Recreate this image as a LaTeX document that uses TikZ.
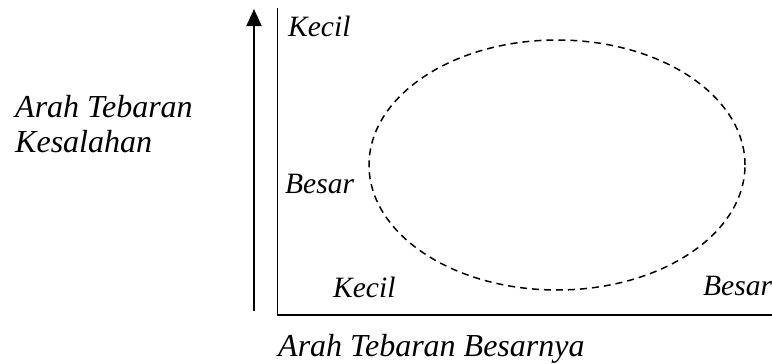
\documentclass[tikz,border=0pt]{standalone}
\usepackage{fontspec}
\setmainfont{Liberation Serif}
\usetikzlibrary{arrows.meta,shapes.geometric}
\begin{document}
\begin{tikzpicture}[x=1pt,y=-1pt,
  lbl/.style={font=\fontsize{29.5}{35}\selectfont\itshape, inner sep=0pt, anchor=base west},
  ttl/.style={font=\fontsize{32}{35}\selectfont\itshape, inner sep=0pt, anchor=base west},
  axisline/.style={line width=1.6pt},
  blob/.style={draw, ellipse, dash pattern=on 7pt off 5pt, line width=1.5pt, minimum width=376pt, minimum height=250pt, inner sep=0pt}]
\useasboundingbox (0,0) rectangle (772,364);
% arrow
\coordinate (ab) at (254,311);
\coordinate (at) at (254,9);
\draw[line width=2pt, -{Triangle[length=17pt,width=15pt]}] (ab) -- (at);
% axes
\coordinate (ytop) at (277.5,8);
\coordinate (orig) at (277.5,315);
\coordinate (xend) at (772,315);
\draw[axisline] (ytop) -- (orig) -- (xend);
% ellipse
\node[blob] (el) at (557,165) {};
% labels
\node[lbl] (kt) at (288,36) {Kecil};
\node[lbl] (bm) at (285,193) {Besar};
\node[lbl] (kb) at (333,297) {Kecil};
\node[lbl] (br) at (703,295) {Besar};
\node[ttl] (ya1) at (15,117) {Arah Tebaran};
\node[ttl] (ya2) at (15,152) {Kesalahan};
\node[ttl] (xa) at (278,356) {Arah Tebaran Besarnya};
\end{tikzpicture}
\end{document}
